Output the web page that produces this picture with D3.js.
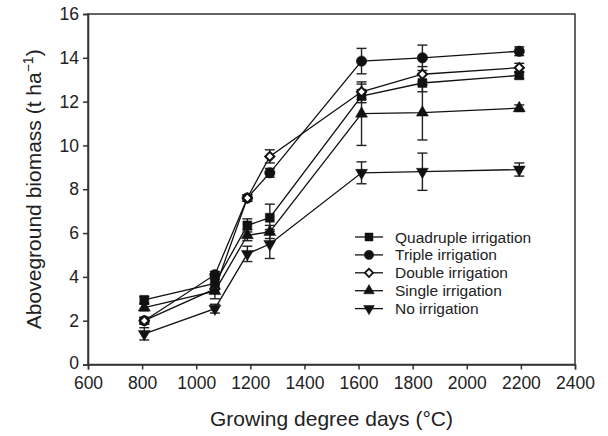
<!DOCTYPE html>
<html>
<head>
<meta charset="utf-8">
<script src="https://cdn.jsdelivr.net/npm/d3@7"></script>
<style>
    body { margin: 0; background: #fff; }
    text { font-family: "Liberation Sans", Arial, sans-serif; fill: #222; }
</style>
</head>
<body>
<div id="chart"></div>
<script>
'use strict';

// growing degree days at each sampling
var gdd = [808, 1069, 1189, 1272, 1611, 1836, 2194];

// aboveground biomass (t/ha) and standard errors
var quadruple = [2.95, 3.7, 6.35, 6.7, 12.25, 12.85, 13.2];
var quadrupleErr = [0.15, 0.2, 0.3, 0.62, 0.3, 0.4, 0.15];
var triple = [2.0, 4.1, 7.6, 8.75, 13.85, 14.0, 14.3];
var tripleErr = [0.15, 0.15, 0.15, 0.2, 0.58, 0.58, 0.2];
var double = [2.0, 3.45, 7.6, 9.5, 12.45, 13.25, 13.55];
var doubleErr = [0.15, 0.2, 0.15, 0.3, 0.35, 0.35, 0.2];
var single = [2.6, 3.35, 5.9, 6.05, 11.45, 11.5, 11.7];
var singleErr = [0.15, 0.35, 0.25, 0.3, 1.45, 1.25, 0.15];
var none = [1.4, 2.55, 5.05, 5.5, 8.75, 8.8, 8.9];
var noneErr = [0.28, 0.2, 0.35, 0.66, 0.5, 0.85, 0.3];

var seriesNames = ["Quadruple irrigation", "Triple irrigation", "Double irrigation", "Single irrigation", "No irrigation"];
var xTicks = [600, 800, 1000, 1200, 1400, 1600, 1800, 2000, 2200, 2400];
var yTicks = [0, 2, 4, 6, 8, 10, 12, 14, 16];

var series = [
    {name: seriesNames[0], values: quadruple, err: quadrupleErr, shape: "square"},
    {name: seriesNames[1], values: triple, err: tripleErr, shape: "circle"},
    {name: seriesNames[2], values: double, err: doubleErr, shape: "diamond"},
    {name: seriesNames[3], values: single, err: singleErr, shape: "up"},
    {name: seriesNames[4], values: none, err: noneErr, shape: "down"}
];

var width = 608, height = 436;
var margin = {top: 14, right: 33, bottom: 71.5, left: 88};

var svg = d3.select("#chart").append("svg")
    .attr("width", width)
    .attr("height", height);

var x = d3.scaleLinear().domain([600, 2400]).range([margin.left, width - margin.right]);
var y = d3.scaleLinear().domain([0, 16]).range([height - margin.bottom, margin.top]);

// frame
svg.append("rect")
    .attr("x", x(600)).attr("y", y(16))
    .attr("width", x(2400) - x(600)).attr("height", y(0) - y(16))
    .attr("fill", "none").attr("stroke", "#333").attr("stroke-width", 1.5);

var xAxis = svg.append("g")
    .attr("transform", "translate(0," + y(0) + ")")
    .call(d3.axisBottom(x).tickValues(xTicks).tickSize(5).tickPadding(7).tickFormat(d3.format("d")));
var yAxis = svg.append("g")
    .attr("transform", "translate(" + x(600) + ",0)")
    .call(d3.axisLeft(y).tickValues(yTicks).tickSize(5).tickPadding(4));

[xAxis, yAxis].forEach(function (g) {
    g.select(".domain").attr("stroke", "#333").attr("stroke-width", 1.5);
    g.selectAll(".tick line").attr("stroke", "#333").attr("stroke-width", 1.5);
    g.selectAll(".tick text").attr("font-size", 17.5).attr("fill", "#222")
        .attr("font-family", "Liberation Sans, Arial, sans-serif");
});
// nudge the zero label up a little so it clears the 600 label
yAxis.selectAll(".tick text").filter(function (d) { return d === 0; }).attr("dy", "0.2em");

// axis titles
svg.append("text")
    .attr("x", (x(600) + x(2400)) / 2).attr("y", 426)
    .attr("text-anchor", "middle").attr("font-size", 21)
    .text("Growing degree days (°C)");

var yTitle = svg.append("text")
    .attr("transform", "translate(41," + ((y(0) + y(16)) / 2) + ") rotate(-90)")
    .attr("text-anchor", "middle").attr("font-size", 21);
yTitle.append("tspan").text("Aboveground biomass (t ha");
yTitle.append("tspan").attr("dy", -8).attr("font-size", 14).text("\u22121");
yTitle.append("tspan").attr("dy", 8).text(")");

function symbolPath(shape, scale) {
    var s = scale || 1;
    if (shape === "square") return d3.symbol().type(d3.symbolSquare).size(80 * s)();
    if (shape === "circle") return d3.symbol().type(d3.symbolCircle).size(85 * s)();
    if (shape === "diamond") return d3.symbol().type(d3.symbolSquare).size(42 * s)();
    return d3.symbol().type(d3.symbolTriangle).size(62 * s)();
}
function symbolRotate(shape) {
    if (shape === "diamond") return 45;
    if (shape === "down") return 180;
    return 0;
}

var line = d3.line()
    .x(function (d, i) { return x(gdd[i]); })
    .y(function (d) { return y(d); });

// connecting lines
svg.append("g").selectAll("path")
    .data(series).enter().append("path")
    .attr("d", function (s) { return line(s.values); })
    .attr("fill", "none").attr("stroke", "#111").attr("stroke-width", 1.3);

// error bars
series.forEach(function (s) {
    var g = svg.append("g").attr("stroke", "#222").attr("stroke-width", 1.4);
    s.values.forEach(function (v, i) {
        var cx = x(gdd[i]), lo = y(v - s.err[i]), hi = y(v + s.err[i]);
        g.append("line").attr("x1", cx).attr("x2", cx).attr("y1", lo).attr("y2", hi);
        g.append("line").attr("x1", cx - 5).attr("x2", cx + 5).attr("y1", lo).attr("y2", lo);
        g.append("line").attr("x1", cx - 5).attr("x2", cx + 5).attr("y1", hi).attr("y2", hi);
    });
});

// markers
series.forEach(function (s) {
    svg.append("g").selectAll("path")
        .data(s.values).enter().append("path")
        .attr("d", symbolPath(s.shape))
        .attr("transform", function (d, i) {
            return "translate(" + x(gdd[i]) + "," + y(d) + ") rotate(" + symbolRotate(s.shape) + ")";
        })
        .attr("fill", s.shape === "diamond" ? "#fff" : "#111")
        .attr("stroke", "#111")
        .attr("stroke-width", s.shape === "diamond" ? 2 : 0.5);
});

// legend
var legend = svg.append("g").attr("transform", "translate(355,237)");
var rows = legend.selectAll("g")
    .data(series).enter().append("g")
    .attr("transform", function (d, i) { return "translate(0," + (i * 17.9) + ")"; });
rows.append("line")
    .attr("x1", 0).attr("x2", 28).attr("y1", 0).attr("y2", 0)
    .attr("stroke", "#111").attr("stroke-width", 1.3);
rows.append("path")
    .attr("d", function (d) { return symbolPath(d.shape, 0.8); })
    .attr("transform", function (d) { return "translate(14,0) rotate(" + symbolRotate(d.shape) + ")"; })
    .attr("fill", function (d) { return d.shape === "diamond" ? "#fff" : "#111"; })
    .attr("stroke", "#111")
    .attr("stroke-width", function (d) { return d.shape === "diamond" ? 1.8 : 0.5; });
rows.append("text")
    .attr("x", 40).attr("y", 5.5)
    .attr("font-size", 15.5)
    .text(function (d) { return d.name; });
</script>
</body>
</html>
